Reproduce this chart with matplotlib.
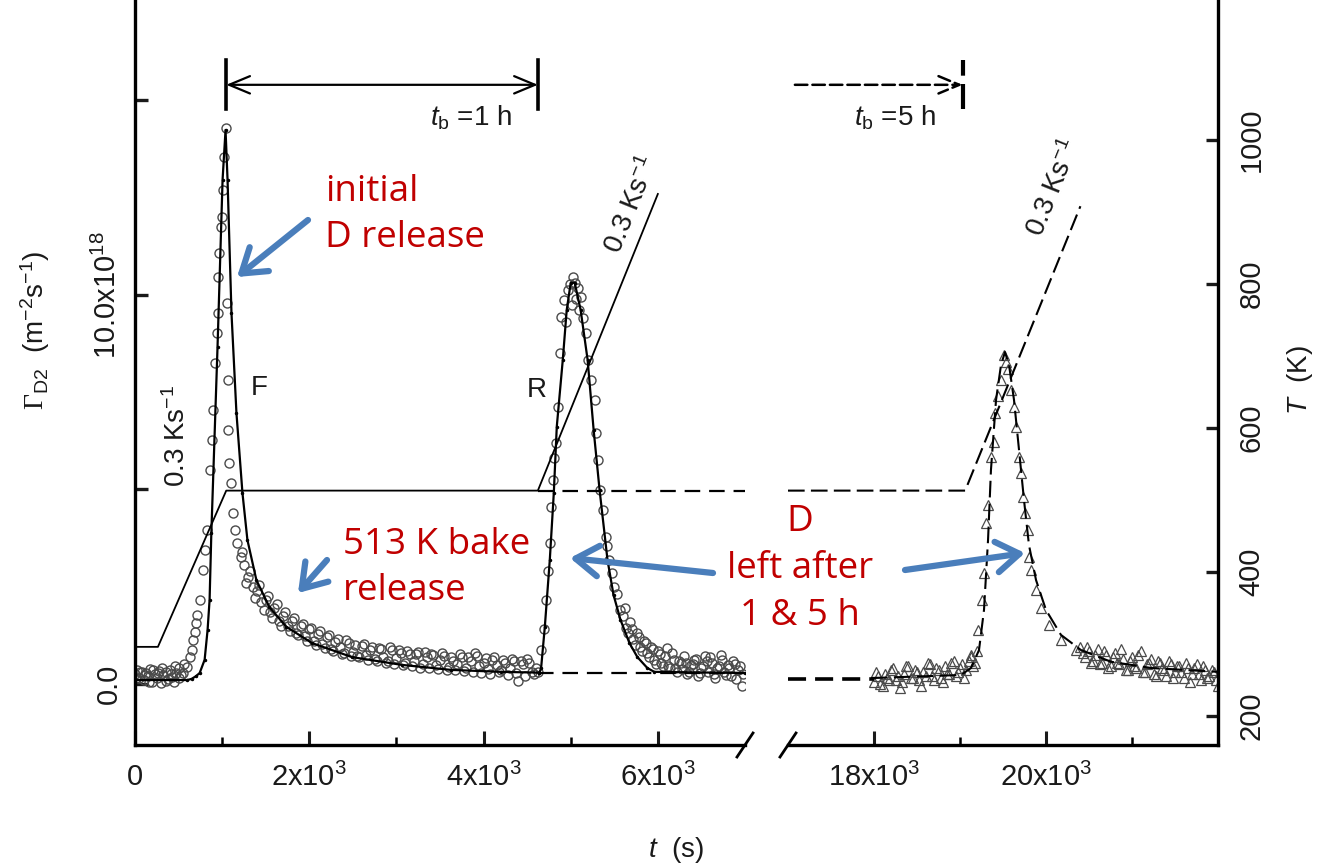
import matplotlib
matplotlib.use('Agg')
import matplotlib.pyplot as plt
from matplotlib.lines import Line2D
from matplotlib.patches import FancyArrowPatch

plt.rcParams['font.family'] = 'Liberation Sans'
plt.rcParams['mathtext.fontset'] = 'custom'
plt.rcParams['mathtext.rm'] = 'Liberation Sans'
plt.rcParams['mathtext.it'] = 'Liberation Sans:italic'
plt.rcParams['mathtext.sf'] = 'Liberation Serif'

W, H = 1330, 868
TXT = '#1a1a1a'
RED = '#C00000'
BLUE = '#4A7EBB'

# ---------------- data (flux in 1e18 m^-2 s^-1, time in s, T in K) ----------------
# measured D2 flux, first run (circles)
circ_t = [0, 25, 50, 75, 100, 125, 150, 175, 200, 225, 250, 275, 300, 325, 350, 375, 400,
          425, 450, 475, 500, 525,
          548, 594, 628, 651, 662, 685, 700, 715, 742, 776, 799, 822, 856, 879, 890, 913,
          936, 947, 952, 959, 982, 993, 1005, 1016, 1039,
          1050, 1062, 1070, 1084, 1107, 1119, 1142, 1176, 1221,
          1250, 1300, 1350, 1400, 1450, 1500, 1550, 1600, 1650, 1700, 1750, 1800, 1850,
          1900, 1950, 2000, 2050, 2100, 2150, 2200, 2250, 2300, 2350, 2400, 2450, 2500,
          2550, 2600, 2650, 2700, 2750, 2800, 2850, 2900, 2950, 3000, 3050, 3100, 3150,
          3200, 3250, 3300, 3350, 3400, 3450, 3500, 3550, 3600, 3650, 3700, 3750, 3800,
          3850, 3900, 3950, 4000, 4050, 4100, 4150, 4200, 4250, 4300, 4350, 4400, 4450,
          4500, 4550, 4600, 4630,
          4658, 4690, 4715, 4740, 4760, 4772, 4795, 4810, 4829, 4852, 4874, 4886, 4920,
          4945, 4966, 4989, 5010, 5030, 5046, 5065, 5080, 5100, 5114, 5140, 5171, 5194,
          5230, 5274, 5285, 5308, 5331, 5365, 5400, 5420, 5445, 5470, 5502, 5530, 5571,
          5600, 5640, 5680, 5720, 5760, 5800, 5840, 5880, 5920, 5960, 6000, 6040, 6080,
          6120, 6160, 6200, 6240, 6280, 6320, 6360, 6400, 6440, 6480, 6520, 6560, 6600,
          6640, 6680, 6720, 6760, 6800, 6840, 6880, 6920, 6960]
circ_g = [0.25, 0.35, 0.15, 0.30, 0.10, 0.28, 0.20, 0.38, 0.05, 0.25, 0.15, 0.32, 0.02, 0.22,
          0.30, 0.12, 0.35, 0.18, 0.05, 0.28, 0.40, 0.22,
          0.28, 0.44, 0.69, 0.87, 1.13, 1.34, 1.57, 1.77, 2.16, 2.93, 3.44, 3.96, 5.50, 6.27,
          7.04, 8.25, 9.02, 9.54, 10.46, 11.08, 11.75, 12.00, 12.70, 13.55, 14.29,
          9.79, 7.81, 6.53, 5.68, 5.17, 4.40, 3.96, 3.62, 3.26,
          3.05, 2.75, 2.50, 2.40, 2.10, 2.15, 1.85, 1.95, 1.62, 1.75, 1.48, 1.62, 1.32,
          1.48, 1.22, 1.40, 1.10, 1.28, 1.02, 1.20, 0.90, 1.08, 0.95, 0.80, 1.05, 0.82,
          0.72, 0.98, 0.75, 0.88, 0.64, 0.92, 0.70, 0.60, 0.86, 0.66, 0.80, 0.54, 0.76,
          0.60, 0.82, 0.50, 0.68, 0.78, 0.48, 0.62, 0.72, 0.44, 0.60, 0.50, 0.68, 0.42,
          0.58, 0.80, 0.45, 0.55, 0.38, 0.62, 0.48, 0.36, 0.55, 0.42, 0.58, 0.08, 0.50,
          0.64, 0.30, 0.40, 0.30,
          0.87, 1.40, 2.16, 2.90, 3.62, 4.55, 5.24, 5.80, 6.20, 7.12, 8.51, 9.43, 9.87,
          9.30, 10.13, 10.28, 9.75, 10.45, 10.31, 9.90, 10.18, 9.60, 9.95, 9.40, 9.02, 8.33,
          7.80, 7.30, 6.45, 5.76, 4.99, 4.47, 3.78, 3.55, 3.19, 2.85, 2.49, 2.30, 1.90,
          1.75, 1.45, 1.60, 1.15, 1.30, 0.95, 1.10, 0.80, 0.95, 0.62, 0.85, 0.55, 0.72,
          0.45, 0.80, 0.40, 0.60, 0.38, 0.55, 0.30, 0.50, 0.65, 0.28, 0.45, 0.60, 0.68,
          0.25, 0.42, 0.75, 0.30, 0.48, 0.20, 0.50, 0.35, -0.05]

# second row of measured points in the flat parts (scatter band is dense there)
circ2_t = [12, 60, 110, 160, 210, 260, 310, 360, 410, 460, 510, 560,
           1225, 1275, 1325, 1375, 1425, 1475, 1525, 1575, 1625, 1675, 1725, 1775, 1825,
           1875, 1925, 1975, 2025, 2075, 2125, 2175, 2225, 2275, 2325, 2375, 2425, 2475,
           2525, 2575, 2625, 2675, 2725, 2775, 2825, 2875, 2925, 2975, 3025, 3075, 3125,
           3175, 3225, 3275, 3325, 3375, 3425, 3475, 3525, 3575, 3625, 3675, 3725, 3775,
           3825, 3875, 3925, 3975, 4025, 4075, 4125, 4175, 4225, 4275, 4325, 4375, 4425,
           4475, 4525, 4575,
           5620, 5660, 5700, 5740, 5780, 5820, 5860, 5900, 5940, 5980, 6020, 6060, 6100,
           6140, 6180, 6220, 6260, 6300, 6340, 6380, 6420, 6460, 6500, 6540, 6580, 6620,
           6660, 6700, 6740, 6780, 6820, 6860, 6900, 6940, 6980]
circ2_g = [0.15, 0.30, 0.22, 0.05, 0.35, 0.28, 0.40, 0.08, 0.25, 0.45, 0.15, 0.50,
           3.40, 2.60, 2.90, 2.20, 2.55, 1.90, 2.25, 1.70, 2.05, 1.50, 1.85, 1.35, 1.70,
           1.25, 1.55, 1.10, 1.45, 1.00, 1.35, 0.92, 1.25, 0.85, 1.15, 0.78, 1.12, 0.72,
           1.00, 0.68, 1.02, 0.62, 0.95, 0.58, 0.90, 0.55, 0.96, 0.50, 0.88, 0.48, 0.85,
           0.45, 0.78, 0.42, 0.82, 0.40, 0.75, 0.38, 0.80, 0.36, 0.70, 0.35, 0.78, 0.32,
           0.68, 0.30, 0.72, 0.28, 0.66, 0.25, 0.70, 0.30, 0.62, 0.22, 0.65, 0.28, 0.60,
           0.20, 0.55, 0.25,
           1.95, 1.30, 1.40, 1.00, 1.20, 0.85, 1.05, 0.70, 0.90, 0.52, 0.78, 0.45, 0.92,
           0.40, 0.62, 0.30, 0.55, 0.72, 0.25, 0.48, 0.62, 0.20, 0.40, 0.72, 0.30, 0.55,
           0.15, 0.45, 0.62, 0.22, 0.40, 0.58, 0.12, 0.45, 0.25]

# model fit of first desorption (F) and of the ramp after the 1 h bake (R)
fitF_t = [0, 600, 650, 700, 742, 799, 833, 856, 876, 947, 1005, 1039, 1062, 1107, 1164,
          1233, 1290, 1393, 1541, 1735, 2032, 2489, 3059, 3630, 4201, 4640]
fitF_g = [0.10, 0.10, 0.13, 0.20, 0.28, 0.62, 1.39, 2.16, 3.88, 8.66, 12.96, 14.24, 12.96,
          9.54, 6.97, 4.91, 3.70, 2.67, 1.98, 1.47, 1.05, 0.69, 0.49, 0.36, 0.31, 0.29]
fitR_t = [4640, 4660, 4703, 4760, 4806, 4840, 4909, 4954, 5000, 5046, 5114, 5194, 5263,
          5331, 5422, 5491, 5571, 5674, 5765, 5879, 5959, 7000]
fitR_g = [0.29, 0.40, 1.47, 3.19, 4.91, 6.61, 8.33, 9.61, 10.31, 10.31, 9.61, 8.33, 6.53,
          4.99, 3.19, 2.29, 1.65, 1.05, 0.69, 0.41, 0.31, 0.28]
base1_t = [4623, 7000]
base1_g = [0.28, 0.28]

# temperature program, 1 h bake
T1_t = [0, 263, 1047, 4623, 6000]
T1_K = [296, 296, 513, 513, 925]
T1hold_t = [4623, 7000]
T1hold_K = [513, 513]

# 5 h bake: temperature, baseline, data (triangles) and fit
T5_t = [17000, 19060, 20400]
T5_K = [513, 513, 908]
base5_t = [17000, 18000]
base5_g = [0.13, 0.13]
tri_t = [18000, 18050, 18100, 18150, 18200, 18250, 18300, 18350, 18400, 18450, 18500,
         18550, 18600, 18650, 18700, 18750, 18800, 18850, 18900, 18950, 19000, 19050,
         19100, 19150, 19200,
         19128, 19209, 19256, 19279, 19302, 19326, 19360, 19395, 19407, 19440, 19477,
         19512, 19535, 19560, 19593, 19628, 19651, 19686, 19709, 19733, 19756, 19791,
         19802, 19826, 19884, 19942, 20035, 20174, 20349,
         20400, 20450, 20500, 20550, 20600, 20650, 20700, 20750, 20800, 20850, 20900,
         20950, 21000, 21050, 21100, 21150, 21200, 21250, 21300, 21350, 21400, 21450,
         21500, 21550, 21600, 21650, 21700, 21750, 21800, 21850, 21900, 21950, 22000]
tri_g = [0.05, 0.20, -0.05, 0.15, 0.35, 0.10, -0.10, 0.25, 0.45, 0.15, 0.30,
         -0.05, 0.20, 0.50, 0.10, 0.35, 0.05, 0.25, 0.55, 0.20, 0.40, 0.15,
         0.60, 0.45, 0.85,
         0.75, 1.39, 2.16, 2.85, 4.14, 4.60, 5.84, 6.22, 6.97, 7.40, 7.81,
         8.46, 8.28, 8.10, 7.56, 7.12, 6.61, 5.84, 5.42, 4.81, 4.40, 3.96,
         3.26, 2.93, 2.42, 1.95, 1.52, 1.13, 0.87,
         0.95, 0.70, 0.85, 0.60, 0.90, 0.55, 0.75, 0.45, 0.80, 0.50, 0.65,
         0.35, 0.70, 0.40, 0.85, 0.30, 0.55, 0.25, 0.60, 0.40, 0.20, 0.50,
         0.30, 0.45, 0.15, 0.40, 0.25, 0.50, 0.10, 0.35, 0.20, 0.30, -0.05]
tri2_t = [18025, 18075, 18125, 18175, 18225, 18275, 18325, 18375, 18425, 18475, 18525,
          18575, 18625, 18675, 18725, 18775, 18825, 18875, 18925, 18975, 19025, 19075,
          19125, 19175,
          20425, 20475, 20525, 20575, 20625, 20675, 20725, 20775, 20825, 20875, 20925,
          20975, 21025, 21075, 21125, 21175, 21225, 21275, 21325, 21375, 21425, 21475,
          21525, 21575, 21625, 21675, 21725, 21775, 21825, 21875, 21925, 21975]
tri2_g = [0.30, 0.00, 0.25, 0.10, 0.40, 0.20, 0.05, 0.45, 0.15, 0.35, 0.10,
          0.30, 0.55, 0.20, 0.40, 0.15, 0.45, 0.25, 0.60, 0.30, 0.50, 0.35,
          0.70, 0.55,
          0.80, 0.95, 0.55, 0.75, 0.50, 0.85, 0.40, 0.70, 0.55, 0.90, 0.35,
          0.60, 0.45, 0.75, 0.30, 0.50, 0.65, 0.20, 0.55, 0.35, 0.60, 0.15,
          0.45, 0.30, 0.55, 0.05, 0.40, 0.25, 0.45, 0.15, 0.35, 0.10]
fit5_t = [17965, 19012, 19128, 19221, 19279, 19326, 19360, 19419, 19477, 19523, 19570,
          19628, 19686, 19744, 19802, 19884, 20000, 20174, 20407, 20756, 21221, 22000]
fit5_g = [0.15, 0.23, 0.41, 0.87, 1.90, 3.70, 5.50, 7.30, 8.20, 8.53, 8.20, 7.30, 6.02,
          4.73, 3.57, 2.67, 1.90, 1.26, 0.87, 0.57, 0.41, 0.31]

G_LIM = (-1.57, 17.58)
T_LIM = (159.7, 1194.4)


def fpos(px, py):
    return px / W, 1 - py / H


fig = plt.figure(figsize=(W / 100, H / 100), dpi=100)
ax1 = fig.add_axes([135 / W, 123 / H, 610 / W, 745 / H])
ax2 = fig.add_axes([788 / W, 123 / H, 430 / W, 745 / H])
ax1T = ax1.twinx()
ax2T = ax2.twinx()

mk_c = dict(ls='none', marker='o', mfc='none', mec='#4a4a4a', ms=6.5, mew=1.0)
mk_t = dict(ls='none', marker='^', mfc='none', mec='#4a4a4a', ms=7, mew=0.9)

# ---- left panel ----
ax1.plot(circ_t, circ_g, **mk_c, zorder=2)
ax1.plot(circ2_t, circ2_g, **mk_c, zorder=2)
ax1.plot(fitF_t, fitF_g, color='k', lw=1.6, marker='.', ms=3, zorder=3)
ax1.plot(fitR_t, fitR_g, color='k', lw=1.6, marker='.', ms=3, zorder=3)
ax1.plot(base1_t, base1_g, color='k', lw=1.6, dashes=(7, 4), zorder=3)
ax1T.plot(T1_t, T1_K, color='k', lw=1.3)
ax1T.plot(T1hold_t, T1hold_K, color='k', lw=1.6, dashes=(7, 4))

# ---- right panel ----
ax2.plot(tri_t, tri_g, **mk_t, zorder=2)
ax2.plot(tri2_t, tri2_g, **mk_t, zorder=2)
ax2.plot(base5_t, base5_g, color='k', lw=2.6, dashes=(5, 2.5), zorder=3)
ax2.plot(fit5_t, fit5_g, color='k', lw=1.5, dashes=(8, 3), zorder=3)
ax2T.plot(T5_t, T5_K, color='k', lw=1.5, dashes=(8, 3))

for a in (ax1, ax2):
    a.set_ylim(*G_LIM)
for a in (ax1T, ax2T):
    a.set_ylim(*T_LIM)
ax1.set_xlim(0, 7000)
ax2.set_xlim(17000, 22000)

# spines
for a in (ax1, ax2, ax1T, ax2T):
    for s in a.spines.values():
        s.set_visible(False)
        s.set_linewidth(2.4)
ax1.spines['left'].set_visible(True)
ax1.spines['bottom'].set_visible(True)
ax2.spines['bottom'].set_visible(True)
ax2T.spines['right'].set_visible(True)

# ticks
ax1.set_xticks([0, 2000, 4000, 6000])
ax1.set_xticklabels(['0', '2x10$^3$', '4x10$^3$', '6x10$^3$'])
ax1.set_xticks([1000, 3000, 5000], minor=True)
ax2.set_xticks([18000, 20000])
ax2.set_xticklabels(['18x10$^3$', '20x10$^3$'])
ax2.set_xticks([19000, 21000], minor=True)
for a in (ax1, ax2):
    a.tick_params(axis='x', which='major', direction='in', length=10, width=2.2,
                  labelsize=21, pad=13, colors=TXT)
    a.tick_params(axis='x', which='minor', direction='in', length=6, width=1.8)
    a.spines['bottom'].set_color('k')

ax1.set_yticks([0, 5, 10, 15])
ax1.set_yticklabels(['0.0', '', '10.0x10$^{18}$', ''], rotation=90, va='center')
ax1.tick_params(axis='y', direction='in', length=9, width=2.4, labelsize=21, pad=9,
                colors=TXT)
ax1.tick_params(axis='y', which='minor', left=False)
ax2.tick_params(axis='y', left=False, labelleft=False)
ax1T.tick_params(axis='y', right=False, labelright=False)

ax2T.set_yticks([200, 400, 600, 800, 1000])
ax2T.set_yticklabels(['200', '400', '600', '800', '1000'], rotation=90, va='center')
ax2T.tick_params(axis='y', direction='in', length=9, width=2.4, labelsize=21, pad=14,
                 colors=TXT)
for a in (ax1, ax2, ax2T):
    for lab in a.get_xticklabels() + a.get_yticklabels():
        lab.set_color(TXT)

# axis break marks
for cx in (745, 788):
    x0, y0 = fpos(cx - 8, 757)
    x1, y1 = fpos(cx + 8, 733)
    fig.add_artist(Line2D([x0, x1], [y0, y1], color='k', lw=2.0,
                          transform=fig.transFigure))

# axis labels
fig.text(*fpos(35, 330), r'$\mathsf{\Gamma}_{\mathrm{D2}}$  (m$^{-2}$s$^{-1}$)',
         rotation=90, ha='center', va='center', fontsize=20, color=TXT)
fig.text(*fpos(1300, 380), r'$T$  (K)', rotation=90, ha='center', va='center',
         fontsize=20, color=TXT)
fig.text(*fpos(676, 850), r'$t$  (s)', ha='center', va='center', fontsize=20, color=TXT)

# bake time markers
b1_start, b1_end = T1_t[2], T1_t[3]
ax1.annotate('', xy=(b1_start, 15.4), xytext=(b1_end, 15.4),
             arrowprops=dict(arrowstyle='<->,head_length=0.6,head_width=0.25', lw=1.6,
                             color='k', shrinkA=0, shrinkB=0, mutation_scale=25))
for xb in (b1_start, b1_end):
    ax1.plot([xb, xb], [14.78, 16.04], color='k', lw=2.6)
ax1.text(4330, 14.55, r'$t_{\mathrm{b}}$ =1 h', ha='right', va='center', fontsize=20,
         color=TXT)

b5_end = 19030
ax2.annotate('', xy=(b5_end, 15.4), xytext=(17080, 15.4),
             arrowprops=dict(arrowstyle='->,head_length=0.6,head_width=0.25', lw=1.8,
                             color='k', shrinkA=0, shrinkB=0, mutation_scale=25,
                             linestyle=(0, (5, 2))))
ax2.plot([b5_end, b5_end], [14.78, 16.04], color='k', lw=3, dashes=(6, 2))
ax2.text(18244, 14.55, r'$t_{\mathrm{b}}$ =5 h', ha='center', va='center', fontsize=20,
         color=TXT)

# ramp-rate labels
ax1.text(482, 6.38, '0.3 Ks$^{-1}$', rotation=90, ha='center', va='center', fontsize=20,
         color=TXT)
ax1.text(5706, 12.3, '0.3 Ks$^{-1}$', rotation=68, ha='center', va='center', fontsize=20,
         color=TXT)
ax2.text(20093, 12.75, '0.3 Ks$^{-1}$', rotation=68, ha='center', va='center', fontsize=20,
         color=TXT)
ax1.text(1424, 7.6, 'F', ha='center', va='center', fontsize=20, color=TXT)
ax1.text(4615, 7.56, 'R', ha='center', va='center', fontsize=20, color=TXT)

# red annotations
red = dict(fontfamily='Open Sans', fontsize=26.5, color=RED, linespacing=1.4)
fig.text(*fpos(325, 215), 'initial\nD release', ha='left', va='center', **red)
fig.text(*fpos(343, 568), '513 K bake\nrelease', ha='left', va='center', **red)
fig.text(*fpos(800, 569), 'D\nleft after\n1 & 5 h', ha='center', va='center',
         multialignment='center', **red)

# blue arrows
arrows = [((308, 220), (237, 277)), ((327, 560), (298, 593)),
          ((713, 573), (570, 558)), ((905, 570), (1025, 553))]
for tail, tip in arrows:
    fig.add_artist(FancyArrowPatch(
        fpos(*tail), fpos(*tip), transform=fig.transFigure,
        arrowstyle='->,head_length=0.75,head_width=0.5', mutation_scale=22,
        lw=4.5, color=BLUE, shrinkA=0, shrinkB=0))

fig.savefig('out.png', dpi=100, facecolor='white')
